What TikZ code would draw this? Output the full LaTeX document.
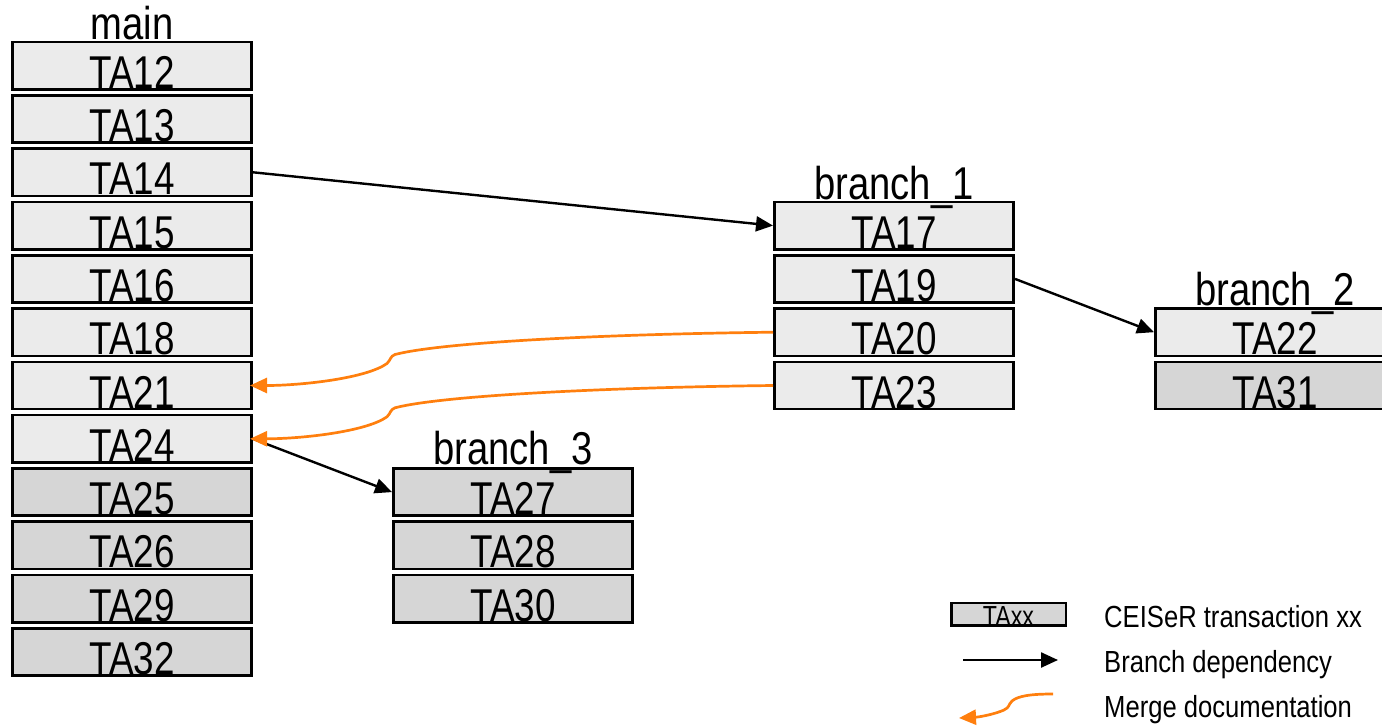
\documentclass[tikz,border=0pt]{standalone}
\usepackage{fontspec}
\setmainfont{Liberation Sans}[FakeStretch=0.8]
\newfontfamily\legendfont{Liberation Sans}[FakeStretch=0.84]
\newfontfamily\titlefont{Liberation Sans}[FakeStretch=0.83]
\usetikzlibrary{arrows.meta,calc}
\definecolor{txlight}{HTML}{EBEBEB}
\definecolor{txdark}{HTML}{D6D6D6}
\definecolor{mergeorange}{HTML}{FF7F0E}

% merge link: leaves the source box to the left, bends once, ends at the target box
\newcommand\mergelink[2]{%
  \draw[merge] (#1.west)
    .. controls +(-173,2) and ($(#2.east)+(188,-43)$) .. ($(#2.east)+(142,-31)$)
    .. controls ($(#2.east)+(137,-29)$) and ($(#2.east)+(138,-26)$) .. ($(#2.east)+(134,-22)$)
    .. controls ($(#2.east)+(113,-7)$) and ($(#2.east)+(48,0)$) .. (#2.east);}

\begin{document}
\begin{tikzpicture}[x=1pt,y=-1pt,
  ta/.style={draw=black, line width=2.6pt, minimum width=239.4pt, minimum height=47.3pt,
    inner sep=0pt, text height=45pt, text depth=0pt, font=\fontsize{46}{46}\selectfont},
  talight/.style={ta, fill=txlight},
  tadark/.style={ta, fill=txdark},
  title/.style={anchor=base, inner sep=0pt, font=\titlefont\fontsize{46}{46}\selectfont},
  dep/.style={draw=black, line width=2.4pt, -{Triangle[length=17pt,width=15pt]}},
  merge/.style={draw=mergeorange, line width=2.7pt, shorten >=-3pt,
    -{Triangle[length=17pt,width=15pt]}},
  legtext/.style={anchor=base west, inner sep=0pt,
    font=\legendfont\fontsize{30.5}{30.5}\selectfont}
]
\useasboundingbox (0,0) rectangle (1382,726);

% main
\node[talight] (ta12) at (132,65.7)  {TA12};
\node[talight] (ta13) at (132,119.0) {TA13};
\node[talight] (ta14) at (132,172.3) {TA14};
\node[talight] (ta15) at (132,225.6) {TA15};
\node[talight] (ta16) at (132,278.9) {TA16};
\node[talight] (ta18) at (132,332.2) {TA18};
\node[talight] (ta21) at (132,385.5) {TA21};
\node[talight] (ta24) at (132,438.8) {TA24};
\node[tadark]  (ta25) at (132,492.1) {TA25};
\node[tadark]  (ta26) at (132,545.4) {TA26};
\node[tadark]  (ta29) at (132,598.7) {TA29};
\node[tadark]  (ta32) at (132,652.0) {TA32};

% branch_1
\node[talight] (ta17) at (894,225.6) {TA17};
\node[talight] (ta19) at (894,278.9) {TA19};
\node[talight] (ta20) at (894,332.2) {TA20};
\node[talight] (ta23) at (894,385.5) {TA23};

% branch_2
\node[talight] (ta22) at (1275,332.2) {TA22};
\node[tadark]  (ta31) at (1275,385.5) {TA31};

% branch_3
\node[tadark] (ta27) at (513,492.1) {TA27};
\node[tadark] (ta28) at (513,545.4) {TA28};
\node[tadark] (ta30) at (513,598.7) {TA30};

% column titles, set over the top edge of the first box
\node[title] (tmain) at (132,39.3) {main};
\node[title] (tb1) at (894,199.3) {branch\_1};
\node[title] (tb2) at (1275,305.8) {branch\_2};
\node[title] (tb3) at (513,464.5) {branch\_3};

% branch dependencies
\draw[dep] (ta14.east) -- (ta17.west);
\draw[dep] (ta19.east) -- (ta22.west);
\draw[dep] (ta24.east) -- (ta27.west);

% merge documentation
\mergelink{ta20}{ta21}
\mergelink{ta23}{ta24}

% legend
\node[draw=black, line width=2.4pt, fill=txdark, minimum width=114.4pt, minimum height=22.4pt,
  inner sep=0pt, text height=22.4pt, text depth=0pt,
  font=\fontsize{29}{29}\selectfont] (legbox) at (1008.5,614.2) {\raisebox{-1.3pt}{TAxx}};
\node[legtext] (legta) at (1104,627) {CEISeR transaction xx};

\coordinate (depa) at (963,660);
\coordinate (depb) at (1058,660);
\draw[dep] (depa) -- (depb);
\node[legtext] (legdep) at (1104,672) {Branch dependency};

\coordinate (mga) at (1053,694);
\coordinate (mgb) at (959,718);
\draw[merge, shorten >=0pt] (mga) .. controls (1030,694) and (1018,696) .. (1012,701)
  .. controls (1008,705) and (1010,707) .. (1004,710)
  .. controls (995,714) and (980,717) .. (mgb);
\node[legtext] (legmerge) at (1104,717) {Merge documentation};
\end{tikzpicture}
\end{document}
